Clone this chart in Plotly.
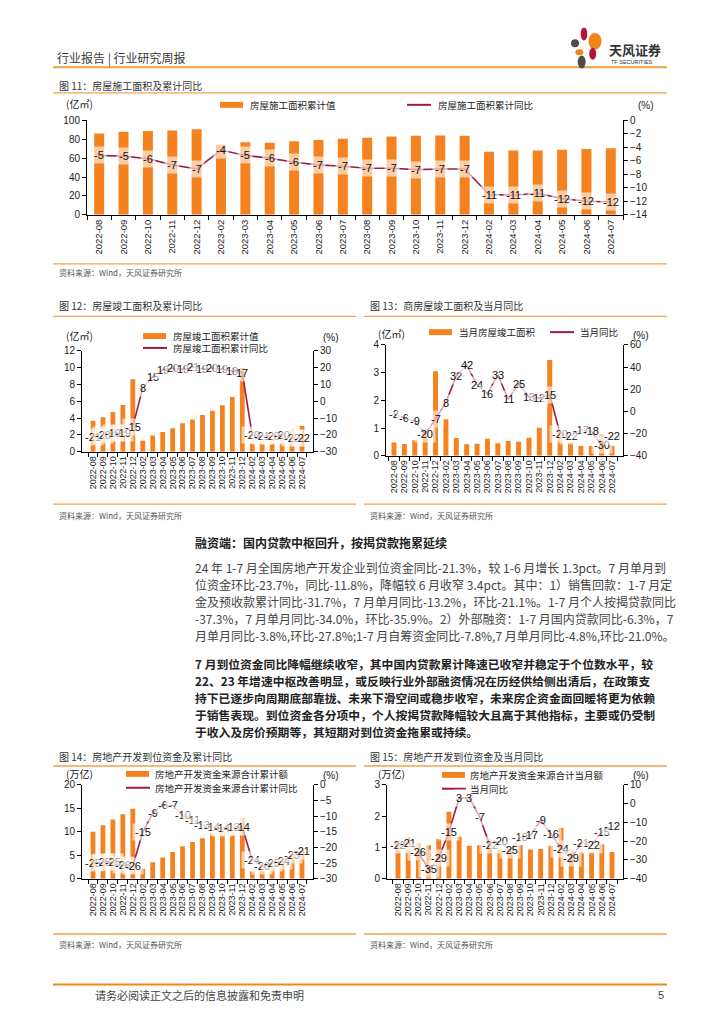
import plotly.graph_objects as go

W, H = 724, 1024
def fx(px): return px / W
def fy(py): return 1 - py / H

months = ["2022-08", "2022-09", "2022-10", "2022-11", "2022-12",
          "2023-02", "2023-03", "2023-04", "2023-05", "2023-06", "2023-07",
          "2023-08", "2023-09", "2023-10", "2023-11", "2023-12",
          "2024-02", "2024-03", "2024-04", "2024-05", "2024-06", "2024-07"]

# 图11 房屋施工面积累计值(亿㎡) / 累计同比(%)
c11_bar = [86.2, 87.9, 88.7, 89.2, 90.5, 74.1, 76.7, 76.3, 77.9, 79.2, 80.6,
           81.6, 82.8, 83.8, 84.0, 83.8, 66.8, 68.1, 68.2, 69.0, 69.7, 70.4]
c11_line = [-5.2, -5.3, -5.7, -6.6, -7.2, -4.4, -5.2, -5.6, -6.2, -6.6, -6.8,
            -7.1, -7.1, -7.3, -7.2, -7.2, -11.0, -11.1, -10.8, -11.6, -12.0, -12.1]
# 图12 房屋竣工面积累计值(亿㎡) / 累计同比(%)
c12_bar = [3.69, 4.09, 4.73, 5.57, 8.62, 1.30, 1.94, 2.36, 2.78, 3.39, 3.84,
           4.37, 4.87, 5.52, 6.52, 9.98, 0.98, 1.30, 1.56, 1.88, 2.65, 3.05]
c12_line = [-21.1, -19.9, -18.7, -19.0, -15.0, 8.0, 14.7, 18.8, 19.6, 19.0, 20.6,
            19.2, 19.8, 19.0, 17.9, 17.0, -20.2, -20.7, -20.4, -20.1, -21.8, -21.8]
# 图13 当月房屋竣工面积(亿㎡) / 当月同比(%)
c13_bar = [0.48, 0.42, 0.56, 0.84, 3.05, 1.32, 0.64, 0.41, 0.43, 0.61, 0.45,
           0.53, 0.50, 0.65, 1.01, 3.46, 0.98, 0.47, 0.35, 0.35, 0.77, 0.36]
c13_line = [-2, -6, -9, -20, -7, 8, 32, 42, 24, 16, 33,
            11, 25, 13, 12, 15, -20, -22, -17, -18, -30, -22]
# 图14 房地产开发资金来源合计累计额(万亿) / 累计同比(%)
c14_bar = [10.0, 11.4, 12.6, 13.7, 14.9, 2.1, 3.5, 4.5, 5.7, 6.9, 7.8,
           8.6, 9.8, 10.7, 11.7, 12.8, 1.55, 2.5, 3.25, 4.1, 5.3, 6.0]
c14_line = [-25.0, -24.6, -24.7, -25.7, -25.9, -15.2, -9.0, -6.4, -6.6, -9.8, -11.2,
            -12.9, -13.6, -13.8, -13.4, -13.6, -24.1, -26.0, -24.9, -24.3, -22.6, -21.3]
# 图15 房地产开发资金来源合计当月额(万亿) / 当月同比(%)
c15_bar = [1.22, 1.33, 1.12, 1.07, 1.27, 2.14, 1.35, 1.05, 1.07, 1.25, 0.91,
           0.88, 1.09, 0.93, 0.95, 1.05, 1.63, 0.93, 0.84, 0.84, 1.10, 0.85]
c15_line = [-22, -21, -26, -35, -29, -15, 3, 3, -7, -22, -20,
            -25, -18, -17, -9, -16, -24, -29, -21, -22, -15, -12]

ORANGE = "#F5821F"
MAROON = "#A01C42"
LINE_OR = "#F5A24E"
CJK = "Noto Sans CJK SC"
LAT = "Liberation Sans, Arial"

charts = [
    dict(title="图 11：房屋施工面积及累计同比", bars=c11_bar, line=c11_line,
         x0=87, x1=623, ytop=115.7, ybot=211.3, yr=[0, 100], yd=20, y2r=[-14, 0], y2d=2,
         bw=0.41, unit="(亿㎡)", bname="房屋施工面积累计值", lname="房屋施工面积累计同比",
         tY=80, l1=88, l2=261, sY=270, lx0=53, lx1=667, ux=64, uy=99, px=636, tf=9.5,
         leg=[(220, 100, 248), (407, 100, 436)]),
    dict(title="图 12：房屋竣工面积及累计同比", bars=c12_bar, line=c12_line,
         x0=82, x1=313, ytop=349, ybot=451, yr=[0, 12], yd=2, y2r=[-30, 30], y2d=10,
         bw=0.48, unit="(亿㎡)", bname="房屋竣工面积累计值", lname="房屋竣工面积累计同比",
         tY=303, l1=314, l2=504, sY=516, lx0=53, lx1=356, ux=64, uy=333, px=321, tf=9,
         leg=[(143, 334, 171), (143, 346, 171)]),
    dict(title="图 13：商房屋竣工面积及当月同比", bars=c13_bar, line=c13_line,
         x0=386, x1=623, ytop=343, ybot=455, yr=[0, 4], yd=1, y2r=[-40, 60], y2d=20,
         bw=0.48, unit="(亿㎡)", bname="当月房屋竣工面积", lname="当月同比",
         tY=303, l1=314, l2=504, sY=516, lx0=364, lx1=667, ux=376, uy=331, px=631, tf=9,
         leg=[(429, 330, 457), (550, 330, 578)]),
    dict(title="图 14：房地产开发到位资金及累计同比", bars=c14_bar, line=c14_line,
         x0=82, x1=313, ytop=788, ybot=883, yr=[0, 20], yd=5, y2r=[-30, 0], y2d=5,
         bw=0.48, unit="(万亿)", bname="房地产开发资金来源合计累计额", lname="房地产开发资金来源合计累计同比",
         tY=759, l1=769, l2=939, sY=950, lx0=53, lx1=356, ux=64, uy=777, px=321, tf=9,
         leg=[(126, 777, 153), (126, 791, 153)]),
    dict(title="图 15：房地产开发到位资金及当月同比", bars=c15_bar, line=c15_line,
         x0=387, x1=623, ytop=788, ybot=883, yr=[0, 3], yd=1, y2r=[-40, 10], y2d=10,
         bw=0.48, unit="(万亿)", bname="房地产开发资金来源合计当月额", lname="当月同比",
         tY=759, l1=769, l2=939, sY=950, lx0=364, lx1=667, ux=376, uy=777, px=631, tf=9,
         leg=[(442, 778, 468), (442, 792, 468)]),
]

fig = go.Figure()
shapes, annots = [], []
layout = {}

def sfx(n):
    return "" if n == 1 else str(n)

for k, c in enumerate(charts, start=1):
    xid = "x" + sfx(k)
    yl = 2 * k - 1
    yr = 2 * k
    ylid, yrid = "y" + sfx(yl), "y" + sfx(yr)
    fig.add_trace(go.Bar(x=months, y=c["bars"], xaxis=xid, yaxis=ylid, width=c["bw"],
                         marker=dict(color=ORANGE, line=dict(width=0)), showlegend=False))
    fig.add_trace(go.Scatter(x=months, y=c["line"], xaxis=xid, yaxis=yrid, mode="lines",
                             line=dict(color=MAROON, width=1.6), showlegend=False))
    layout["xaxis" + sfx(k)] = dict(
        domain=[fx(c["x0"]), fx(c["x1"])], anchor=ylid, type="category",
        tickmode="array", tickvals=months, ticktext=months,
        tickangle=-90, tickson="boundaries", ticks="outside", ticklen=4,
        tickcolor="#000", showline=True, linecolor="#000", linewidth=1,
        showgrid=False, tickfont=dict(family=LAT, size=c["tf"], color="#222"))
    layout["yaxis" + sfx(yl)] = dict(
        domain=[fy(c["ybot"]), fy(c["ytop"])], anchor=xid, range=c["yr"], dtick=c["yd"],
        ticks="outside", ticklen=4, tickcolor="#000", showline=True, linecolor="#000",
        linewidth=1, showgrid=False, zeroline=False,
        tickfont=dict(family=LAT, size=10, color="#222"))
    layout["yaxis" + sfx(yr)] = dict(
        overlaying=ylid, side="right", anchor=xid, range=c["y2r"], dtick=c["y2d"],
        ticks="outside", ticklen=4, tickcolor="#000", showline=True, linecolor="#000",
        linewidth=1, showgrid=False, zeroline=False,
        tickfont=dict(family=LAT, size=10, color="#222"))
    # data labels on the line
    for m, v in zip(months, c["line"]):
        annots.append(dict(x=m, y=v, xref=xid, yref=yrid, text=f"{round(v):d}",
                           showarrow=False, font=dict(family=LAT, size=11, color="#111"),
                           bgcolor="rgba(255,255,255,0.6)", borderpad=2,
                           xanchor="center", yanchor="middle"))
    # title, separators, source
    annots.append(dict(x=fx(c["lx0"] + 4), y=fy(c["tY"]), xref="paper", yref="paper",
                       text=c["title"], showarrow=False, xanchor="left", yanchor="middle",
                       font=dict(family=CJK, size=10, color="#333")))
    for ly in (c["l1"], c["l2"]):
        shapes.append(dict(type="line", xref="paper", yref="paper",
                           x0=fx(c["lx0"]), x1=fx(c["lx1"]), y0=fy(ly), y1=fy(ly),
                           line=dict(color=LINE_OR, width=1.3)))
    annots.append(dict(x=fx(c["lx0"] + 4), y=fy(c["sY"]), xref="paper", yref="paper",
                       text="资料来源：Wind，天风证券研究所", showarrow=False,
                       xanchor="left", yanchor="middle",
                       font=dict(family=CJK, size=8, color="#555")))
    # units
    annots.append(dict(x=fx(c["ux"]), y=fy(c["uy"]), xref="paper", yref="paper",
                       text=c["unit"], showarrow=False, xanchor="left", yanchor="middle",
                       font=dict(family=CJK, size=10, color="#222")))
    annots.append(dict(x=fx(c["px"]), y=fy(c["uy"] + 2), xref="paper", yref="paper",
                       text="(%)", showarrow=False, xanchor="left", yanchor="middle",
                       font=dict(family=LAT, size=10, color="#222")))
    # legend
    (bx, by, btx), (lx, ly_, ltx) = c["leg"]
    shapes.append(dict(type="rect", xref="paper", yref="paper",
                       x0=fx(bx), x1=fx(bx + 23), y0=fy(by + 3), y1=fy(by - 3),
                       fillcolor=ORANGE, line=dict(width=0)))
    annots.append(dict(x=fx(btx), y=fy(by), xref="paper", yref="paper", text=c["bname"],
                       showarrow=False, xanchor="left", yanchor="middle",
                       font=dict(family=CJK, size=9.5, color="#222")))
    shapes.append(dict(type="line", xref="paper", yref="paper",
                       x0=fx(lx), x1=fx(lx + 24), y0=fy(ly_), y1=fy(ly_),
                       line=dict(color=MAROON, width=2)))
    annots.append(dict(x=fx(ltx), y=fy(ly_), xref="paper", yref="paper", text=c["lname"],
                       showarrow=False, xanchor="left", yanchor="middle",
                       font=dict(family=CJK, size=9.5, color="#222")))

# header
annots.append(dict(x=fx(55), y=fy(53), xref="paper", yref="paper",
                   text="行业报告 | 行业研究周报", showarrow=False, xanchor="left",
                   yanchor="middle", font=dict(family=CJK, size=12, color="#3a3a3a")))
shapes.append(dict(type="line", xref="paper", yref="paper", x0=fx(53), x1=fx(667),
                   y0=fy(62), y1=fy(62), line=dict(color="#F29B3F", width=2)))
# logo petals
petals = [(584, 28.3, 6.7, 13.3, "#B0173A"), (595, 35.7, 13, 17, "#F08519"),
          (575, 37.7, 8, 8, "#4D4D4D"), (579.3, 46.7, 8, 6, "#F08519"),
          (592.7, 48.3, 7, 12, "#B0173A"), (581.7, 56.7, 8, 13, "#4D4D4D")]
for cx, cy, w, h, col in petals:
    shapes.append(dict(type="circle", xref="paper", yref="paper",
                       x0=fx(cx - w / 2), x1=fx(cx + w / 2), y0=fy(cy + h / 2), y1=fy(cy - h / 2),
                       fillcolor=col, line=dict(width=0)))
annots.append(dict(x=fx(607), y=fy(44), xref="paper", yref="paper", text="<b>天风证券</b>",
                   showarrow=False, xanchor="left", yanchor="middle",
                   font=dict(family=CJK, size=13, color="#333")))
annots.append(dict(x=fx(609), y=fy(56.5), xref="paper", yref="paper", text="TF SECURITIES",
                   showarrow=False, xanchor="left", yanchor="middle",
                   font=dict(family=LAT, size=5.5, color="#333")))

# body text
heading = "<b>融资端：国内贷款中枢回升，按揭贷款拖累延续</b>"
para1 = ["24 年 1-7 月全国房地产开发企业到位资金同比-21.3%，较 1-6 月增长 1.3pct。7 月单月到",
         "位资金环比-23.7%，同比-11.8%，降幅较 6 月收窄 3.4pct。其中：1）销售回款：1-7 月定",
         "金及预收款累计同比-31.7%，7 月单月同比-13.2%，环比-21.1%。1-7 月个人按揭贷款同比",
         "-37.3%，7 月单月同比-34.0%，环比-35.9%。2）外部融资：1-7 月国内贷款同比-6.3%，7",
         "月单月同比-3.8%,环比-27.8%;1-7 月自筹资金同比-7.8%,7 月单月同比-4.8%,环比-21.0%。"]
para2 = ["7 月到位资金同比降幅继续收窄，其中国内贷款累计降速已收窄并稳定于个位数水平，较",
         "22、23 年增速中枢改善明显，或反映行业外部融资情况在历经供给侧出清后，在政策支",
         "持下已逐步向周期底部靠拢、未来下滑空间或稳步收窄，未来房企资金面回暖将更为依赖",
         "于销售表现。到位资金各分项中，个人按揭贷款降幅较大且高于其他指标，主要或仍受制",
         "于收入及房价预期等，其短期对到位资金拖累或持续。"]
annots.append(dict(x=fx(193), y=fy(543), xref="paper", yref="paper", text=heading,
                   showarrow=False, xanchor="left", yanchor="middle",
                   font=dict(family=CJK, size=12, color="#222")))
for i, t in enumerate(para1):
    annots.append(dict(x=fx(193), y=fy(568 + 17.3 * i), xref="paper", yref="paper", text=t,
                       showarrow=False, xanchor="left", yanchor="middle",
                       font=dict(family=CJK, size=12, color="#444")))
for i, t in enumerate(para2):
    annots.append(dict(x=fx(193), y=fy(665 + 17.3 * i), xref="paper", yref="paper",
                       text="<b>" + t + "</b>", showarrow=False, xanchor="left", yanchor="middle",
                       font=dict(family=CJK, size=11.8, color="#222")))

# footer
shapes.append(dict(type="line", xref="paper", yref="paper", x0=fx(53), x1=fx(667),
                   y0=fy(990), y1=fy(990), line=dict(color="#EE8A14", width=2)))
annots.append(dict(x=fx(93), y=fy(1001), xref="paper", yref="paper",
                   text="请务必阅读正文之后的信息披露和免责申明", showarrow=False,
                   xanchor="left", yanchor="middle", font=dict(family=CJK, size=11, color="#444")))
annots.append(dict(x=fx(666), y=fy(1001), xref="paper", yref="paper", text="5",
                   showarrow=False, xanchor="right", yanchor="middle",
                   font=dict(family=LAT, size=11, color="#444")))

fig.update_layout(width=W, height=H, margin=dict(l=0, r=0, t=0, b=0),
                  paper_bgcolor="white", plot_bgcolor="white",
                  shapes=shapes, annotations=annots, showlegend=False, **layout)
fig.write_html("out.html", config={"displayModeBar": False},
               post_script="document.body.style.margin='0';document.body.style.overflow='hidden';")
